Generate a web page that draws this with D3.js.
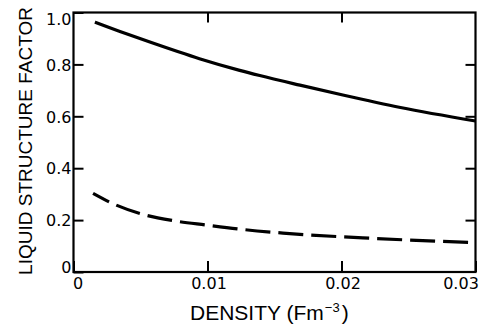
<!DOCTYPE html>
<html>
<head>
<meta charset="utf-8">
<script src="https://cdn.jsdelivr.net/npm/d3@7"></script>
<style>
  html, body { margin: 0; padding: 0; background: #fff; }
  svg { display: block; }
</style>
</head>
<body>
<svg id="chart" width="483" height="333"></svg>
<script>
// ---- data ----
const xTicks = [0, 0.01, 0.02, 0.03];
const xTickLabels = ["0", "0.01", "0.02", "0.03"];
const yTicks = [0, 0.2, 0.4, 0.6, 0.8, 1.0];
const yTickLabels = ["0", "0.2", "0.4", "0.6", "0.8", "1.0"];

const solidDensity = [0.0016, 0.0040, 0.0057, 0.0094, 0.0124, 0.0139, 0.0169, 0.0201, 0.0244, 0.0300];
const solidValue   = [0.963, 0.917, 0.886, 0.822, 0.777, 0.757, 0.720, 0.682, 0.634, 0.582];

const dashedDensity = [0.00146, 0.00296, 0.00519, 0.00743, 0.00989, 0.01243, 0.01563, 0.02213, 0.02965];
const dashedValue   = [0.303, 0.263, 0.222, 0.198, 0.181, 0.165, 0.150, 0.130, 0.114];

const xLabel = "DENSITY (Fm";
const xLabelSup = "\u22123";
const yLabel = "LIQUID STRUCTURE FACTOR";

// ---- layout ----
const svg = d3.select("#chart");
const mLeft = 73.5, mRight = 475.5, mTop = 12.5, mBottom = 272;

const x = d3.scaleLinear().domain([0, 0.03]).range([mLeft, mRight]);
const y = d3.scaleLinear().domain([0, 1]).range([mBottom, mTop]);

const tickFont = "'DejaVu Sans', sans-serif";
const labelFont = "'Liberation Sans', Arial, sans-serif";

// frame
svg.append("rect")
  .attr("x", x(0)).attr("y", y(1))
  .attr("width", x(0.03) - x(0)).attr("height", y(0) - y(1))
  .attr("fill", "none").attr("stroke", "#000").attr("stroke-width", 2.2);

function styleAxis(g) {
  g.select(".domain").remove();
  g.selectAll(".tick line").attr("stroke", "#000").attr("stroke-width", 2);
  g.selectAll(".tick text").attr("fill", "#000")
    .style("font-family", tickFont).style("font-size", "16px");
}

// bottom axis
const gB = svg.append("g").attr("transform", `translate(0,${mBottom})`)
  .call(d3.axisBottom(x).tickValues(xTicks).tickSizeInner(-11).tickSizeOuter(0)
    .tickPadding(6).tickFormat((d, i) => xTickLabels[i]));
styleAxis(gB);
gB.selectAll(".tick text").attr("dx", (d, i) => i === 0 ? 4 : (i === xTicks.length - 1 ? -15 : 1));

// left axis
const gL = svg.append("g").attr("transform", `translate(${mLeft},0)`)
  .call(d3.axisLeft(y).tickValues(yTicks).tickSizeInner(-10).tickSizeOuter(0)
    .tickPadding(2).tickFormat((d, i) => yTickLabels[i]));
styleAxis(gL);
gL.selectAll(".tick text").attr("dy", (d, i) => i === 0 ? "0.05em" : (i === yTicks.length - 1 ? "0.72em" : "0.36em"));

// right axis (ticks only)
const gR = svg.append("g").attr("transform", `translate(${mRight},0)`)
  .call(d3.axisRight(y).tickValues(yTicks.slice(1, -1)).tickSizeInner(-10).tickSizeOuter(0).tickFormat(""));
styleAxis(gR);

// top axis (ticks only)
const gT = svg.append("g").attr("transform", `translate(0,${mTop})`)
  .call(d3.axisTop(x).tickValues(xTicks.slice(1, -1)).tickSizeInner(-10).tickSizeOuter(0).tickFormat(""));
styleAxis(gT);

// curves
const line = d3.line().x(d => x(d[0])).y(d => y(d[1])).curve(d3.curveMonotoneX);

svg.append("path")
  .datum(solidDensity.map((d, i) => [d, solidValue[i]]))
  .attr("d", line)
  .attr("fill", "none").attr("stroke", "#000").attr("stroke-width", 3.2)
  .attr("stroke-linecap", "butt");

svg.append("path")
  .datum(dashedDensity.map((d, i) => [d, dashedValue[i]]))
  .attr("d", line)
  .attr("fill", "none").attr("stroke", "#000").attr("stroke-width", 3.2)
  .attr("stroke-dasharray", "25 8").attr("stroke-dashoffset", 7);

// x label
const xl = svg.append("text")
  .attr("x", 190).attr("y", 320)
  .style("font-family", labelFont).style("font-size", "21px").attr("fill", "#000");
xl.append("tspan").text(xLabel);
xl.append("tspan").text(xLabelSup).attr("dy", -8).style("font-size", "13px").attr("dx", 1);
xl.append("tspan").text(")").attr("dy", 8).attr("dx", 2);

// y label
svg.append("text")
  .attr("transform", `translate(32,${141}) rotate(-90)`)
  .attr("text-anchor", "middle")
  .style("font-family", labelFont).style("font-size", "19px").attr("fill", "#000")
  .text(yLabel);
</script>
</body>
</html>
